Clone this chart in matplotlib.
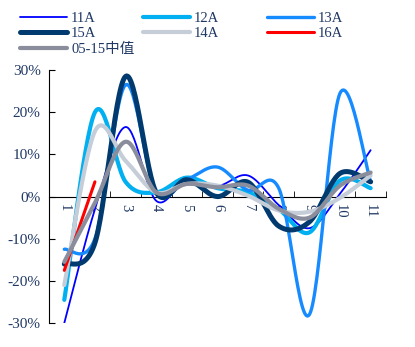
import numpy as np
import matplotlib.pyplot as plt

months = ["1", "2", "3", "4", "5", "6", "7", "8", "9", "10", "11"]

s11a = [-30, -3, 16.5, -1, 4, 2.5, 5, -2, -7.5, 0.7, 11]
s12a = [-24.5, 20, 3.5, 1, 4.5, 2, 1, -3, -8.5, 3.8, 2]
s13a = [-12.5, -10, 26.5, 1, 4, 7, 1.5, 2, -28, 24.5, 3.5]
s15a = [-16, -11, 28.5, 1, 4, 0, 3.4, -7, -6, 5.5, 3.5]
s14a = [-21, 15.5, 8.5, 1, 3, 2.6, 0.2, -3.3, -3.6, -0.3, 5]
s16a = [-17.5, 3.5]
s_med = [-15.5, -1.5, 13, 1, 3, 2.2, 2.6, -2.9, -5, 2.6, 5.7]

labels = ["11A", "12A", "13A", "15A", "14A", "16A", "05-15中值"]
colors = ["#0000FF", "#00B0F0", "#168BFF", "#003A6E", "#C5CED8", "#FF0000", "#8A8D9C"]
widths = [1.3, 3.0, 2.4, 3.6, 3.0, 2.2, 3.0]


def smooth(y, n=30):
    # Excel-style smoothed line (Catmull-Rom as cubic Bezier)
    y = np.asarray(y, dtype=float)
    x = np.arange(1, len(y) + 1, dtype=float)
    if len(y) < 3:
        return x, y
    px = np.concatenate([[x[0]], x, [x[-1]]])
    py = np.concatenate([[y[0]], y, [y[-1]]])
    xs, ys = [], []
    t = np.linspace(0, 1, n)
    for i in range(1, len(px) - 2):
        p0 = np.array([px[i], py[i]])
        p3 = np.array([px[i + 1], py[i + 1]])
        b1 = p0 + (np.array([px[i + 1], py[i + 1]]) - np.array([px[i - 1], py[i - 1]])) / 6
        b2 = p3 - (np.array([px[i + 2], py[i + 2]]) - np.array([px[i], py[i]])) / 6
        pts = ((1 - t) ** 3)[:, None] * p0 + (3 * (1 - t) ** 2 * t)[:, None] * b1 \
            + (3 * (1 - t) * t ** 2)[:, None] * b2 + (t ** 3)[:, None] * p3
        xs.append(pts[:, 0])
        ys.append(pts[:, 1])
    return np.concatenate(xs), np.concatenate(ys)


plt.rcParams["font.family"] = ["Liberation Serif", "Noto Sans CJK SC"]
text_color = "#1F3864"

fig = plt.figure(figsize=(4.15, 3.47), dpi=100)
ax = fig.add_axes([0.118, 0.069, 0.812, 0.729])

series = [s11a, s12a, s13a, s15a, s14a, s16a, s_med]
lines = []
for data, lab, c, w in zip(series, labels, colors, widths):
    xs, ys = smooth(data)
    ln, = ax.plot(xs, ys, color=c, lw=w, label=lab, solid_capstyle="round")
    lines.append(ln)

ax.set_xlim(0.5, 11.5)
ax.set_ylim(-30, 30)
ax.set_yticks(range(-30, 31, 10))
ax.set_yticklabels([f"{v}%" for v in range(-30, 31, 10)])
ax.set_xticks(range(1, 12))
ax.set_xticklabels(months)
ax.set_xticks(np.arange(1.5, 11.6, 1), minor=True)

for s in ["top", "right"]:
    ax.spines[s].set_visible(False)
ax.spines["bottom"].set_position(("data", 0))
ax.spines["bottom"].set_zorder(0)
ax.tick_params(axis="x", which="major", length=0, pad=5, labelsize=10.5,
               labelcolor=text_color, labelrotation=-90)
ax.tick_params(axis="x", which="minor", direction="in", length=4)
ax.tick_params(axis="y", direction="in", length=4, labelsize=11, labelcolor=text_color, pad=6)

# legend: three equally spaced columns like the original
columns = [[0, 3, 6], [1, 4], [2, 5]]
col_x = [20, 143, 267]
for idx, x0 in zip(columns, col_x):
    leg = fig.legend([lines[i] for i in idx], [labels[i] for i in idx],
                     loc="upper left", bbox_to_anchor=(x0 / 415, 1 - 12 / 347),
                     frameon=False, fontsize=10.5, handlelength=3.2,
                     handletextpad=0.3, labelspacing=0.14,
                     borderpad=0, borderaxespad=0)
    for t in leg.get_texts():
        t.set_color(text_color)

plt.savefig("out.png", dpi=100)
